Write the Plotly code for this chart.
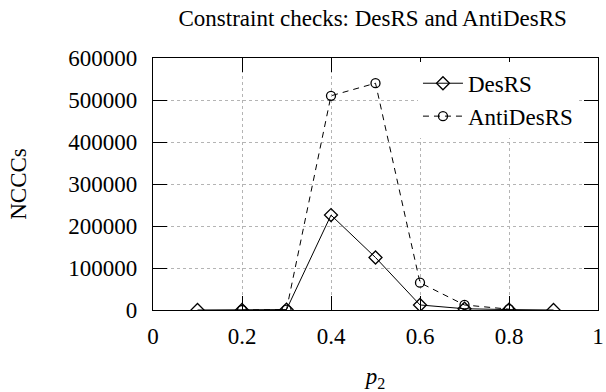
import plotly.graph_objects as go

# ---- data ----
x_des = [0.1, 0.2, 0.3, 0.4, 0.5, 0.6, 0.7, 0.8, 0.9]
y_des = [0, 0, 1000, 226000, 125000, 12000, 3000, 1000, 0]

x_anti = [0.2, 0.3, 0.4, 0.5, 0.6, 0.7, 0.8]
y_anti = [0, 1000, 510000, 540000, 65000, 12000, 2000]

x_ticks = [0, 0.2, 0.4, 0.6, 0.8, 1]
x_tick_labels = ["0", "0.2", "0.4", "0.6", "0.8", "1"]
y_ticks = [0, 100000, 200000, 300000, 400000, 500000, 600000]
y_tick_labels = ["0", "100000", "200000", "300000", "400000", "500000", "600000"]

FONT = "Liberation Serif"
FS = 23

fig = go.Figure()
fig.add_trace(go.Scatter(
    x=x_des, y=y_des, name="DesRS", mode="lines+markers",
    line=dict(color="black", width=1),
    marker=dict(symbol="diamond-open", size=10, color="black", line=dict(width=1.3, color="black")),
))
fig.add_trace(go.Scatter(
    x=x_anti, y=y_anti, name="AntiDesRS", mode="lines+markers",
    line=dict(color="black", width=1, dash="6px,5px"),
    marker=dict(symbol="circle-open", size=9, color="black", line=dict(width=1.3, color="black")),
))

axis_common = dict(
    showline=True, linecolor="black", linewidth=1.2, mirror="ticks",
    ticks="inside", ticklen=14, tickwidth=1, tickcolor="black",
    showgrid=True, gridcolor="#b4b4b4", griddash="dot", gridwidth=1,
    zeroline=False, automargin=False,
    tickfont=dict(family=FONT, size=FS, color="black"),
)

fig.update_xaxes(
    range=[0, 1], tickmode="array", tickvals=x_ticks, ticktext=x_tick_labels,
    ticklabelstandoff=5,
    title=dict(text="<i>p</i><sub>2</sub>", font=dict(family=FONT, size=FS, color="black"), standoff=27),
    **axis_common,
)
fig.update_yaxes(
    range=[0, 600000], tickmode="array", tickvals=y_ticks, ticktext=y_tick_labels,
    ticklabelstandoff=10,
    title=dict(text="NCCCs", font=dict(family=FONT, size=FS, color="black"), standoff=35),
    **axis_common,
)

fig.update_layout(
    width=606, height=392,
    margin=dict(l=153, r=8, t=58, b=82, autoexpand=False),
    paper_bgcolor="white", plot_bgcolor="white",
    font=dict(family=FONT, size=FS, color="black"),
    title=dict(text="Constraint checks: DesRS and AntiDesRS",
               font=dict(family=FONT, size=FS, color="black"),
               x=0.615, xanchor="center", y=0.955, yanchor="middle"),
    legend=dict(
        x=0.955, xanchor="right", y=0.985, yanchor="top",
        bgcolor="white", borderwidth=0,
        font=dict(family=FONT, size=FS, color="black"),
        tracegroupgap=0, itemwidth=40,
    ),
    showlegend=True,
)

fig.write_html("out.html")
